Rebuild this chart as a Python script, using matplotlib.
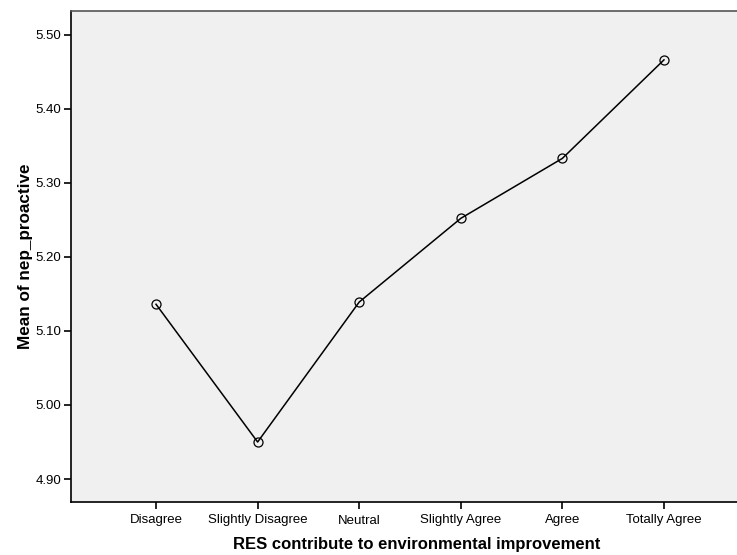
import matplotlib.pyplot as plt

plt.rcParams['font.family'] = ['Liberation Sans', 'DejaVu Sans']

categories = ['Disagree', 'Slightly Disagree', 'Neutral', 'Slightly Agree', 'Agree', 'Totally Agree']
means = [5.136, 4.950, 5.139, 5.252, 5.333, 5.466]
yticks = [4.90, 5.00, 5.10, 5.20, 5.30, 5.40, 5.50]

fig = plt.figure(figsize=(7.37, 5.55), dpi=100)
W, H = 737, 555
left, right, top, bottom = 71, 749, 10.7, 502
ax = fig.add_axes([left / W, 1 - bottom / H, (right - left) / W, (bottom - top) / H])
ax.set_facecolor('#F0F0F0')

x = list(range(len(categories)))
ax.plot(x, means, color='black', lw=1.1, marker='o', markersize=6.5,
        markerfacecolor='none', markeredgecolor='black', markeredgewidth=0.9)

ax.set_xlim(-0.837, len(categories) - 1 + 0.837)
ax.set_ylim(4.869, 5.5324)
ax.set_xticks(x)
ax.set_xticklabels(categories, fontsize=9.5)
ax.set_yticks(yticks)
ax.set_yticklabels([f'{v:.2f}' for v in yticks], fontsize=9.5)
ax.tick_params(axis='both', direction='out', length=5, width=1.2, color='black', pad=2)
ax.tick_params(axis='x', pad=4)

for s in ['left', 'bottom']:
    ax.spines[s].set_color('black')
    ax.spines[s].set_linewidth(1.2)
ax.spines['top'].set_color('#555555')
ax.spines['top'].set_linewidth(1.2)
ax.spines['right'].set_visible(False)

ax.set_xlabel('RES contribute to environmental improvement', fontsize=12,
              fontweight='bold')
ax.xaxis.set_label_coords((417 - left) / (right - left), -(545 - bottom) / (bottom - top))
ax.xaxis.label.set_va('center')
ax.set_ylabel('Mean of nep_proactive', fontsize=12.3, fontweight='bold', labelpad=2)

fig.savefig('out.png', dpi=100)
